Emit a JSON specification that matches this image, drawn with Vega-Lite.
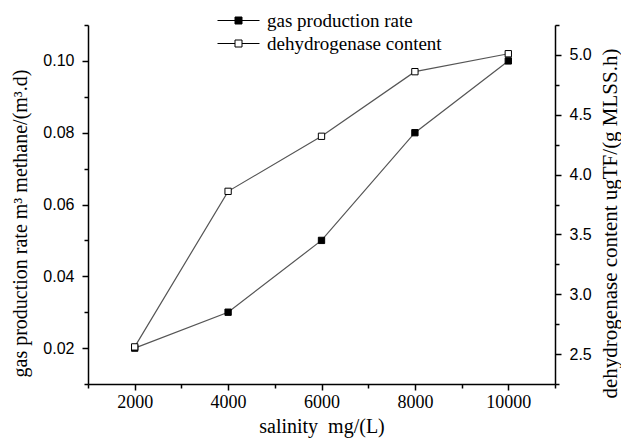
{
  "$schema": "https://vega.github.io/schema/vega-lite/v6.json",
  "width": 467,
  "height": 359,
  "autosize": {"type": "none"},
  "padding": {"left": 88, "top": 25, "right": 66, "bottom": 55},
  "background": "white",
  "config": {"view": {"stroke": null}, "axis": {"grid": false}},
  "data": {
    "values": [
      {"salinity": 2000, "series": "gas production rate", "value": 0.02},
      {"salinity": 4000, "series": "gas production rate", "value": 0.03},
      {"salinity": 6000, "series": "gas production rate", "value": 0.05},
      {"salinity": 8000, "series": "gas production rate", "value": 0.08},
      {"salinity": 10000, "series": "gas production rate", "value": 0.10},
      {"salinity": 2000, "series": "dehydrogenase content", "value": 2.56},
      {"salinity": 4000, "series": "dehydrogenase content", "value": 3.86},
      {"salinity": 6000, "series": "dehydrogenase content", "value": 4.32},
      {"salinity": 8000, "series": "dehydrogenase content", "value": 4.86},
      {"salinity": 10000, "series": "dehydrogenase content", "value": 5.01}
    ]
  },
  "encoding": {
    "x": {
      "field": "salinity",
      "type": "quantitative",
      "scale": {"domain": [1000, 11000], "nice": false, "zero": false},
      "axis": {
        "values": [1000, 2000, 3000, 4000, 5000, 6000, 7000, 8000, 9000, 10000, 11000],
        "format": "d",
        "labelExpr": "datum.value % 2000 === 0 ? datum.label : ''",
        "tickSize": {"condition": {"test": "datum.value % 2000 === 0", "value": 6}, "value": 4},
        "domainColor": "black",
        "domainWidth": 1.5,
        "tickColor": "black",
        "tickWidth": 1.5,
        "labelFont": "Liberation Serif",
        "labelFontSize": 18,
        "labelColor": "black",
        "labelPadding": 3,
        "title": "salinity\u00a0\u00a0mg/(L)",
        "titleFont": "Liberation Serif",
        "titleFontSize": 20,
        "titleFontWeight": "normal",
        "titleColor": "black",
        "titleBaseline": "alphabetic",
        "titleY": 48
      }
    }
  },
  "layer": [
    {
      "transform": [{"filter": "datum.series === 'gas production rate'"}],
      "encoding": {
        "y": {
          "field": "value",
          "type": "quantitative",
          "scale": {"domain": [0.01, 0.11], "nice": false, "zero": false},
          "axis": {
            "orient": "left",
            "values": [0.01, 0.02, 0.03, 0.04, 0.05, 0.06, 0.07, 0.08, 0.09, 0.10, 0.11],
            "labelExpr": "round(datum.value * 100) % 2 === 0 ? format(datum.value, '.2f') : ''",
            "tickSize": {"condition": {"test": "round(datum.value * 100) % 2 === 0", "value": 6}, "value": 4},
            "domainColor": "black",
            "domainWidth": 1.5,
            "tickColor": "black",
            "tickWidth": 1.5,
            "labelFont": "Liberation Sans",
            "labelFontSize": 16,
            "labelColor": "black",
            "labelPadding": 8,
            "title": "gas production rate m³ methane/(m³.d)",
            "titleFont": "Liberation Serif",
            "titleFontSize": 20,
            "titleFontWeight": "normal",
            "titleColor": "black",
            "titleAngle": 270,
            "titleAlign": "center",
            "titleBaseline": "middle",
            "titleX": -68,
            "titleY": 198
          }
        }
      },
      "layer": [
        {"mark": {"type": "line", "color": "#555555", "strokeWidth": 1.2}},
        {
          "mark": {"type": "square", "size": 40, "stroke": "black", "strokeWidth": 1, "opacity": 1},
          "encoding": {
            "fill": {
              "field": "series",
              "type": "nominal",
              "scale": {"domain": ["gas production rate", "dehydrogenase content"], "range": ["black", "white"]},
              "legend": {
                "title": null,
                "orient": "none",
                "legendX": 127,
                "legendY": -14,
                "padding": 0,
                "symbolType": "M-1,0H1.5M2.5,0H5M1.5,-0.5H2.5V0.5H1.5Z",
                "symbolSize": 196,
                "symbolStrokeColor": "black",
                "symbolStrokeWidth": 1,
                "symbolOpacity": 1,
                "labelFont": "Liberation Serif",
                "labelFontSize": 19,
                "labelColor": "black",
                "labelOffset": 33,
                "labelLimit": 400,
                "rowPadding": 3
              }
            }
          }
        }
      ]
    },
    {
      "transform": [{"filter": "datum.series === 'dehydrogenase content'"}],
      "encoding": {
        "y": {
          "field": "value",
          "type": "quantitative",
          "scale": {"domain": [2.25, 5.25], "nice": false, "zero": false},
          "axis": {
            "orient": "right",
            "values": [2.25, 2.5, 2.75, 3.0, 3.25, 3.5, 3.75, 4.0, 4.25, 4.5, 4.75, 5.0, 5.25],
            "labelExpr": "datum.value % 0.5 === 0 ? format(datum.value, '.1f') : ''",
            "tickSize": {"condition": {"test": "datum.value % 0.5 === 0", "value": 6}, "value": 4},
            "domainColor": "black",
            "domainWidth": 1.5,
            "tickColor": "black",
            "tickWidth": 1.5,
            "labelFont": "Liberation Sans",
            "labelFontSize": 16,
            "labelColor": "black",
            "labelPadding": 8,
            "title": "dehydrogenase content ugTF/(g MLSS.h)",
            "titleFont": "Liberation Serif",
            "titleFontSize": 21,
            "titleFontWeight": "normal",
            "titleColor": "black",
            "titleAngle": 270,
            "titleAlign": "center",
            "titleBaseline": "middle",
            "titleX": 55,
            "titleY": 198
          }
        }
      },
      "layer": [
        {"mark": {"type": "line", "color": "#555555", "strokeWidth": 1.2}},
        {
          "mark": {"type": "square", "size": 40, "stroke": "black", "strokeWidth": 1, "opacity": 1},
          "encoding": {
            "fill": {"field": "series", "type": "nominal"}
          }
        }
      ]
    }
  ],
  "resolve": {"scale": {"y": "independent"}}
}
